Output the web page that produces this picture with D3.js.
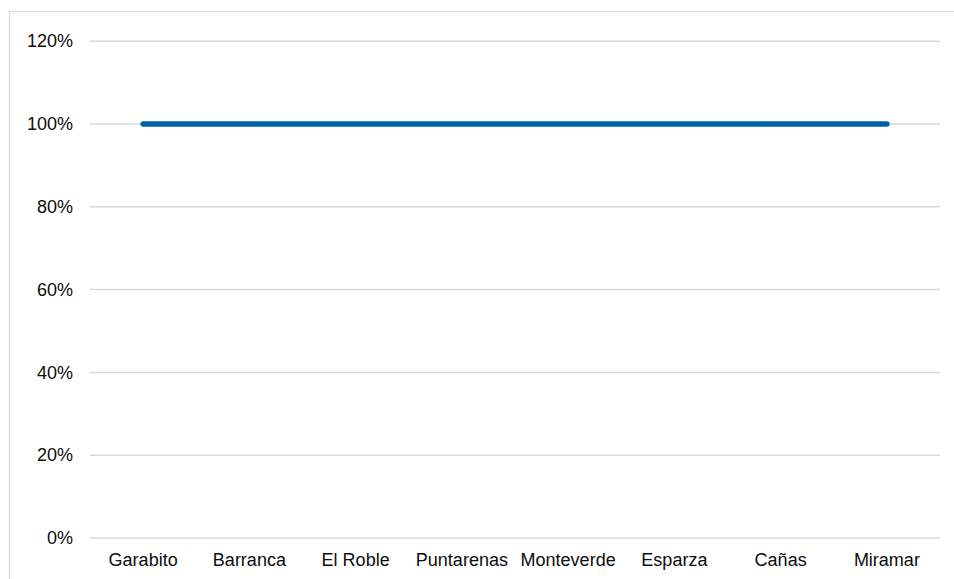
<!DOCTYPE html>
<html>
<head>
<meta charset="utf-8">
<script src="https://cdn.jsdelivr.net/npm/d3@7"></script>
<style>
  html, body { margin: 0; padding: 0; background: #ffffff; }
  svg { display: block; }
  text { font-family: "Liberation Sans", Arial, sans-serif; fill: #0d0d0d; }
</style>
</head>
<body>
<svg id="chart" width="954" height="579"></svg>
<script>
// Share per canton (fraction of 1)
const cantons = ["Garabito", "Barranca", "El Roble", "Puntarenas", "Monteverde", "Esparza", "Cañas", "Miramar"];
const shares = [1, 1, 1, 1, 1, 1, 1, 1];
const yTicks = [0, 0.2, 0.4, 0.6, 0.8, 1.0, 1.2];

const svg = d3.select("#chart");
const margin = { left: 90, right: 14, top: 41.2, bottom: 41 };
const W = 954, H = 579;
const fontSize = 18;

// Chart frame
svg.append("rect")
  .attr("x", 9.5).attr("y", 11.5)
  .attr("width", 960).attr("height", 600)
  .attr("fill", "none").attr("stroke", "#d9d9d9").attr("stroke-width", 1.2);

const x = d3.scaleBand()
  .domain(cantons)
  .range([margin.left, W - margin.right])
  .paddingInner(0).paddingOuter(0);

const y = d3.scaleLinear()
  .domain([0, 1.2])
  .range([H - margin.bottom, margin.top]);

// Horizontal gridlines
svg.append("g")
  .selectAll("line")
  .data(yTicks)
  .join("line")
  .attr("x1", margin.left).attr("x2", W - margin.right)
  .attr("y1", d => y(d)).attr("y2", d => y(d))
  .attr("stroke", "#d9d9d9").attr("stroke-width", 1.5);

// Y axis labels
const yAxis = d3.axisLeft(y)
  .tickValues(yTicks)
  .tickFormat(d3.format(".0%"))
  .tickSize(0).tickPadding(0);
svg.append("g")
  .attr("transform", `translate(${margin.left - 17},0)`)
  .call(yAxis)
  .attr("font-size", fontSize)
  .attr("font-family", "'Liberation Sans', Arial, sans-serif")
  .call(g => g.select(".domain").remove())
  .call(g => g.selectAll("text").attr("fill", "#0d0d0d"));

// X axis labels
const xAxis = d3.axisBottom(x).tickSize(0).tickPadding(0);
svg.append("g")
  .attr("transform", `translate(0,${H - margin.bottom + 15})`)
  .call(xAxis)
  .attr("font-size", fontSize)
  .attr("font-family", "'Liberation Sans', Arial, sans-serif")
  .call(g => g.select(".domain").remove())
  .call(g => g.selectAll("text").attr("fill", "#0d0d0d").attr("dy", "0.71em"));

// Series line
const line = d3.line()
  .x((d, i) => x(cantons[i]) + x.bandwidth() / 2)
  .y(d => y(d));
svg.append("path")
  .datum(shares)
  .attr("d", line)
  .attr("fill", "none")
  .attr("stroke", "#0062ad")
  .attr("stroke-width", 5.5)
  .attr("stroke-linecap", "round")
  .attr("stroke-linejoin", "round");
</script>
</body>
</html>
